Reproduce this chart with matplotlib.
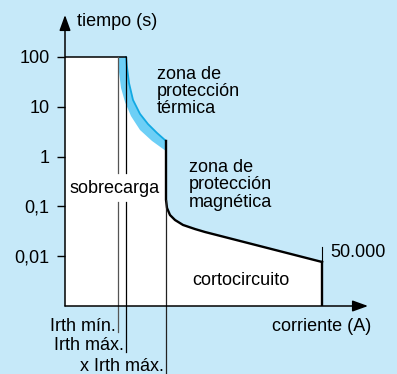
import numpy as np
import matplotlib.pyplot as plt


plt.rcParams["font.family"] = ["Liberation Sans", "DejaVu Sans"]
plt.rcParams["font.size"] = 13

BG = "#c6e9f9"
BAND_FILL = "#6dcff6"
BAND_EDGE = "#12a9e3"

# Time axis (s), log scale
Y_TICKS = [100, 10, 1, 0.1, 0.01]
Y_TICK_LABELS = ["100", "10", "1", "0,1", "0,01"]
T_MIN = 1e-3
LOG_TOP = 2.843

# Current axis is schematic (arbitrary units)
I_MAX_AXIS = 303
IRTH_MIN = 53
IRTH_MAX = 61
X_IRTH_MAX = 101
I_BREAK = 257          # 50.000 A
T_OVERLOAD = 100

# thermal band: slow edge and fast edge
THERMAL_SLOW_I = [61, 62, 64, 68, 75, 83, 92, 101]
THERMAL_SLOW_T = [100, 63, 30, 13.7, 7.2, 4.5, 2.98, 2.06]
THERMAL_FAST_I = [53, 54, 56, 60, 66, 75, 87, 101]
THERMAL_FAST_T = [100, 50, 23.9, 12.5, 6.5, 3.42, 2.06, 1.29]

# magnetic trip curve down to breaking capacity
MAGNETIC_I = [101, 101, 102, 105, 110, 118, 130, 140, 257]
MAGNETIC_T = [2.06, 0.135, 0.0929, 0.0671, 0.0533, 0.0424, 0.0351, 0.0306,
              0.00766]
BREAK_MARK_T = 0.0153

# gap in the Irth lines around "sobrecarga"
GAP_T = (0.469, 0.122)


def frac_to_t(f):
    lo = np.log10(T_MIN)
    return 10 ** (lo + f * (LOG_TOP - lo))


fig = plt.figure(figsize=(3.97, 3.74), dpi=100, facecolor=BG)
ax = fig.add_axes([65 / 397, 68 / 374, 303 / 397, 291 / 374])
ax.set_facecolor("none")
ax.set_yscale("log")
ax.set_xlim(0, I_MAX_AXIS)
ax.set_ylim(T_MIN, 10 ** LOG_TOP)

# white trip region
reg_i = [0, 0] + THERMAL_SLOW_I + MAGNETIC_I + [I_BREAK]
reg_t = [T_MIN, T_OVERLOAD] + THERMAL_SLOW_T + MAGNETIC_T + [T_MIN]
ax.fill(reg_i, reg_t, color="white", lw=0)

# thermal band
band_i = THERMAL_FAST_I + THERMAL_SLOW_I[::-1]
band_t = THERMAL_FAST_T + THERMAL_SLOW_T[::-1]
ax.fill(band_i, band_t, color=BAND_FILL, lw=0)
ax.plot(THERMAL_SLOW_I, THERMAL_SLOW_T, color=BAND_EDGE, lw=1.3)

# outline
ax.plot([0, IRTH_MAX], [T_OVERLOAD, T_OVERLOAD], color="black", lw=1.1)
ax.plot(MAGNETIC_I, MAGNETIC_T, color="black", lw=1.7, solid_joinstyle="round")
ax.plot([I_BREAK, I_BREAK], [T_MIN, MAGNETIC_T[-1]], color="black", lw=1.7)
ax.plot([I_BREAK, I_BREAK], [MAGNETIC_T[-1], BREAK_MARK_T], color="black", lw=0.8)

# Irth lines with labels below the axis
leaders = [
    (IRTH_MIN, "Irth mín.", -0.069, -0.089, "#555555", True),
    (IRTH_MAX, "Irth máx.", -0.137, -0.158, "black", True),
    (X_IRTH_MAX, "x Irth máx.", -0.209, -0.234, "#222222", False),
]
for x, label, lab_f, end_f, col, has_top in leaders:
    if has_top:
        ax.plot([x, x], [T_OVERLOAD, GAP_T[0]], color=col, lw=0.9)
        ax.plot([x, x], [GAP_T[1], frac_to_t(end_f)], color=col, lw=0.9,
                clip_on=False)
    else:
        ax.plot([x, x], [MAGNETIC_T[1], frac_to_t(end_f)], color=col, lw=0.9,
                clip_on=False)
    ax.text(x - 2, frac_to_t(lab_f), label, ha="right", va="center")

# axes with arrows
for spine in ax.spines.values():
    spine.set_visible(False)
for tip in [(0, 1), (1, 0)]:
    ax.annotate("", xy=tip, xytext=(0, 0), xycoords="axes fraction",
                arrowprops=dict(arrowstyle="-|>,head_length=0.47,head_width=0.17",
                                mutation_scale=20, lw=1.1, color="black",
                                shrinkA=0, shrinkB=0))

ax.set_yticks(Y_TICKS)
ax.set_yticklabels(Y_TICK_LABELS)
ax.minorticks_off()
ax.set_xticks([])
ax.tick_params(axis="y", direction="out", length=6, width=1, pad=5,
               labelsize=13)

# texts
ax.text(0.04, 0.976, "tiempo (s)", transform=ax.transAxes, ha="left", va="center")
ax.text(0.683, -0.072, "corriente (A)", transform=ax.transAxes,
        ha="left", va="center")
ax.text(5, 0.234, "sobrecarga", ha="left", va="center")
ax.text(92, 20.7, "zona de\nprotección\ntérmica", ha="left", va="center",
        linespacing=1.0)
ax.text(124, 0.27, "zona de\nprotección\nmagnética", ha="left", va="center",
        linespacing=1.02)
ax.text(127, 0.00318, "cortocircuito", ha="left", va="center")
ax.text(265, 0.0116, "50.000", ha="left", va="center")

fig.savefig("out.png", dpi=100, facecolor=BG)
